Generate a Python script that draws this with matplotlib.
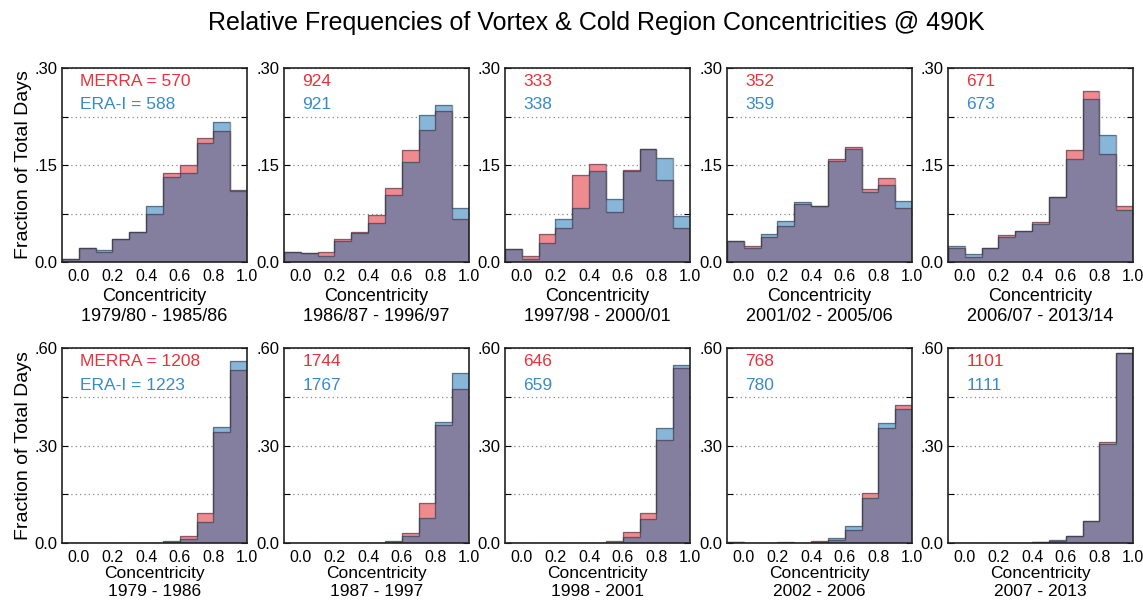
import matplotlib.pyplot as plt
import numpy as np

plt.rcParams['font.family'] = ['Liberation Sans', 'DejaVu Sans']

# bin edges of concentricity
edges = np.round(np.arange(-0.1, 1.01, 0.1), 2)

periods_top = ['1979/80 - 1985/86', '1986/87 - 1996/97', '1997/98 - 2000/01',
               '2001/02 - 2005/06', '2006/07 - 2013/14']
periods_bot = ['1979 - 1986', '1987 - 1997', '1998 - 2001', '2002 - 2006', '2007 - 2013']

n_merra_top = [570, 924, 333, 352, 671]
n_era_top = [588, 921, 338, 359, 673]
n_merra_bot = [1208, 1744, 646, 768, 1101]
n_era_bot = [1223, 1767, 659, 780, 1111]

# relative frequencies, top row (vortex)
merra_top = [
    [0.004, 0.022, 0.016, 0.036, 0.046, 0.074, 0.138, 0.150, 0.192, 0.203, 0.111],
    [0.015, 0.014, 0.015, 0.035, 0.047, 0.073, 0.114, 0.173, 0.204, 0.234, 0.066],
    [0.020, 0.010, 0.044, 0.053, 0.134, 0.152, 0.077, 0.142, 0.174, 0.127, 0.053],
    [0.033, 0.024, 0.039, 0.056, 0.089, 0.087, 0.159, 0.178, 0.113, 0.130, 0.084],
    [0.022, 0.008, 0.021, 0.041, 0.048, 0.062, 0.101, 0.173, 0.265, 0.167, 0.086],
]
era_top = [
    [0.004, 0.022, 0.018, 0.036, 0.046, 0.086, 0.131, 0.138, 0.184, 0.217, 0.110],
    [0.016, 0.014, 0.010, 0.033, 0.045, 0.061, 0.103, 0.154, 0.228, 0.243, 0.084],
    [0.020, 0.004, 0.029, 0.067, 0.084, 0.141, 0.097, 0.141, 0.174, 0.161, 0.071],
    [0.033, 0.021, 0.044, 0.063, 0.093, 0.087, 0.156, 0.175, 0.108, 0.119, 0.094],
    [0.024, 0.012, 0.021, 0.038, 0.048, 0.059, 0.101, 0.160, 0.252, 0.197, 0.081],
]
# bottom row (cold region)
merra_bot = [
    [0.0, 0.0, 0.0, 0.0, 0.0, 0.001, 0.006, 0.022, 0.091, 0.342, 0.533],
    [0.0, 0.0, 0.0, 0.0, 0.0, 0.001, 0.007, 0.030, 0.122, 0.363, 0.474],
    [0.0, 0.0, 0.0, 0.0, 0.0, 0.0, 0.007, 0.034, 0.092, 0.318, 0.538],
    [0.002, 0.0, 0.0, 0.001, 0.0, 0.006, 0.010, 0.041, 0.154, 0.354, 0.425],
    [0.0, 0.0, 0.0, 0.0, 0.001, 0.004, 0.007, 0.022, 0.069, 0.310, 0.584],
]
era_bot = [
    [0.0, 0.0, 0.0, 0.0, 0.0, 0.001, 0.002, 0.012, 0.064, 0.356, 0.561],
    [0.0, 0.0, 0.0, 0.0, 0.0, 0.001, 0.003, 0.021, 0.076, 0.373, 0.523],
    [0.0, 0.0, 0.0, 0.0, 0.0, 0.0, 0.001, 0.017, 0.075, 0.354, 0.549],
    [0.003, 0.0, 0.0, 0.003, 0.0, 0.003, 0.016, 0.051, 0.138, 0.369, 0.412],
    [0.0, 0.0, 0.0, 0.0, 0.001, 0.004, 0.008, 0.022, 0.069, 0.306, 0.586],
]

red_fill = '#ef8a8f'
blue_fill = '#87b6d9'
both_fill = '#847f9f'
red_txt = '#e8323c'
blue_txt = '#3a8ac6'

fig = plt.figure(figsize=(11.43, 6.02), dpi=100)
fig.text(0.522, 0.962, 'Relative Frequencies of Vortex & Cold Region Concentricities @ 490K',
         ha='center', va='center', fontsize=18)

W, H = 1143.0, 602.0
lefts = [62, 284, 505, 727, 948]
# top px, bottom px, ymax, ytick labels, data, counts, periods, label size/spacing/pad
rows = [
    (68, 262, 0.30, ['0.0', '.15', '.30'], merra_top, era_top, n_merra_top, n_era_top,
     periods_top, (13, 1.2, 3)),
    (348, 543, 0.60, ['0.0', '.30', '.60'], merra_bot, era_bot, n_merra_bot, n_era_bot,
     periods_bot, (12.5, 1.25, 1)),
]

for top, bot, ymax, ylabs, mer, era, nm, ne, per, lab in rows:
    for i in range(5):
        ax = fig.add_axes([lefts[i] / W, 1 - bot / H, 185 / W, (bot - top) / H])
        m = np.array(mer[i])
        e = np.array(era[i])
        ax.stairs(m, edges, fill=True, color=red_fill, zorder=2)
        ax.stairs(e, edges, fill=True, color=blue_fill, zorder=2)
        ax.stairs(np.minimum(m, e), edges, fill=True, color=both_fill, zorder=3)
        ax.stairs(m, edges, color='#3a3040', alpha=0.55, lw=1.0, zorder=4)
        ax.stairs(e, edges, color='#303a45', alpha=0.55, lw=1.0, zorder=4)

        ax.set_xlim(-0.1, 1.0)
        ax.set_ylim(0, ymax)
        ax.set_xticks([0.0, 0.2, 0.4, 0.6, 0.8, 1.0])
        ax.set_xticklabels(['0.0', '0.2', '0.4', '0.6', '0.8', '1.0'], fontsize=11.5)
        ax.set_yticks([0, ymax / 2, ymax])
        ax.set_yticklabels(ylabs, fontsize=12)
        ax.set_yticks([ymax / 4, ymax * 3 / 4], minor=True)
        ax.grid(axis='y', which='both', linestyle=(0, (1, 2.5)), color='#888888', lw=0.9, zorder=1)
        ax.tick_params(axis='both', which='both', direction='in', right=True, length=4,
                       width=0.8, pad=3)
        ax.tick_params(axis='x', length=0, pad=5)
        for s in ax.spines.values():
            s.set_linewidth(1.2)
            s.set_color('#222222')
            s.set_zorder(5)
        ax.set_xlabel('Concentricity\n' + per[i], fontsize=lab[0], linespacing=lab[1],
                      labelpad=lab[2])

        if i == 0:
            ax.set_ylabel('Fraction of Total Days', fontsize=14, labelpad=2)
            ax.text(0.1, 0.93, 'MERRA = %d' % nm[i], color=red_txt, fontsize=12.5,
                    transform=ax.transAxes, va='center')
            ax.text(0.1, 0.81, 'ERA-I = %d' % ne[i], color=blue_txt, fontsize=12.5,
                    transform=ax.transAxes, va='center')
        else:
            ax.text(0.1, 0.93, '%d' % nm[i], color=red_txt, fontsize=12.5,
                    transform=ax.transAxes, va='center')
            ax.text(0.1, 0.81, '%d' % ne[i], color=blue_txt, fontsize=12.5,
                    transform=ax.transAxes, va='center')

fig.savefig('out.png', dpi=100)
